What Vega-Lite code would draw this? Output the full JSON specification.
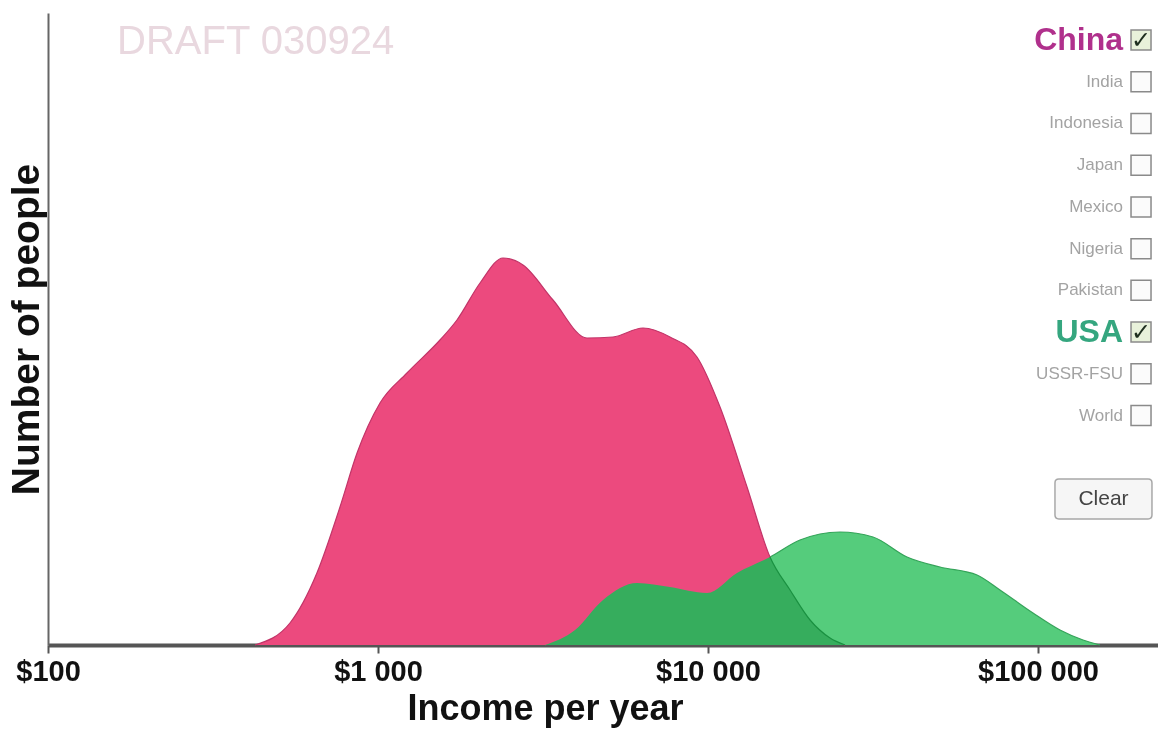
{
  "$schema": "https://vega.github.io/schema/vega-lite/v6.json",
  "width": 1110,
  "height": 632,
  "autosize": {"type": "none"},
  "padding": {"left": 48, "top": 13, "right": 0, "bottom": 86},
  "background": "white",
  "title": {
    "text": "DRAFT 030924",
    "anchor": "start",
    "orient": "top",
    "offset": -81,
    "dx": 110,
    "baseline": "alphabetic",
    "fontSize": 40,
    "fontWeight": "normal",
    "font": "Liberation Sans",
    "color": "#e9d8df"
  },
  "config": {"view": {"stroke": null}, "font": "Liberation Sans"},
  "datasets": {
    "income": [
      {"country": "China", "income": 424, "people": 0},
      {"country": "China", "income": 541, "people": 22},
      {"country": "China", "income": 653, "people": 72},
      {"country": "China", "income": 767, "people": 138},
      {"country": "China", "income": 864, "people": 192},
      {"country": "China", "income": 1014, "people": 242},
      {"country": "China", "income": 1224, "people": 272},
      {"country": "China", "income": 1541, "people": 305},
      {"country": "China", "income": 1735, "people": 325},
      {"country": "China", "income": 2038, "people": 362},
      {"country": "China", "income": 2392, "people": 387},
      {"country": "China", "income": 2750, "people": 380},
      {"country": "China", "income": 3391, "people": 345},
      {"country": "China", "income": 4298, "people": 307},
      {"country": "China", "income": 5154, "people": 308},
      {"country": "China", "income": 6353, "people": 317},
      {"country": "China", "income": 7669, "people": 308},
      {"country": "China", "income": 9261, "people": 288},
      {"country": "China", "income": 10875, "people": 238},
      {"country": "China", "income": 13130, "people": 158},
      {"country": "China", "income": 15413, "people": 88},
      {"country": "China", "income": 17725, "people": 55},
      {"country": "China", "income": 20380, "people": 25},
      {"country": "China", "income": 23430, "people": 7},
      {"country": "China", "income": 26020, "people": 0},
      {"country": "USA", "income": 3207, "people": 0},
      {"country": "USA", "income": 3954, "people": 15},
      {"country": "USA", "income": 4807, "people": 45},
      {"country": "USA", "income": 6093, "people": 62},
      {"country": "USA", "income": 7669, "people": 58},
      {"country": "USA", "income": 9931, "people": 52},
      {"country": "USA", "income": 12241, "people": 72},
      {"country": "USA", "income": 15413, "people": 88},
      {"country": "USA", "income": 19000, "people": 105},
      {"country": "USA", "income": 25119, "people": 113},
      {"country": "USA", "income": 31623, "people": 108},
      {"country": "USA", "income": 40090, "people": 88},
      {"country": "USA", "income": 50470, "people": 78},
      {"country": "USA", "income": 65340, "people": 70},
      {"country": "USA", "income": 76690, "people": 55},
      {"country": "USA", "income": 96560, "people": 32},
      {"country": "USA", "income": 116600, "people": 15},
      {"country": "USA", "income": 136900, "people": 5},
      {"country": "USA", "income": 154100, "people": 0}
    ],
    "legend": [
      {"country": "China", "checked": true},
      {"country": "India", "checked": false},
      {"country": "Indonesia", "checked": false},
      {"country": "Japan", "checked": false},
      {"country": "Mexico", "checked": false},
      {"country": "Nigeria", "checked": false},
      {"country": "Pakistan", "checked": false},
      {"country": "USA", "checked": true},
      {"country": "USSR-FSU", "checked": false},
      {"country": "World", "checked": false}
    ]
  },
  "layer": [
    {
      "data": {"name": "income"},
      "encoding": {
        "x": {
          "field": "income",
          "type": "quantitative",
          "scale": {"type": "log", "domain": [100, 231000], "nice": false},
          "axis": {
            "orient": "bottom",
            "values": [100, 1000, 10000, 100000],
            "labelExpr": "'$' + replace(format(datum.value, ','), ',', ' ')",
            "title": "Income per year",
            "titleFontSize": 36,
            "titleFontWeight": "bold",
            "titleColor": "#111111",
            "titleX": 497,
            "titleAlign": "center",
            "titlePadding": 5,
            "labelFontSize": 29,
            "labelFontWeight": "bold",
            "labelColor": "#111111",
            "labelPadding": 4,
            "labelFlush": false,
            "labelOverlap": false,
            "tickSize": 8,
            "tickColor": "#555555",
            "tickWidth": 2,
            "domainColor": "#555555",
            "domainWidth": 4,
            "grid": false
          }
        },
        "y": {
          "field": "people",
          "type": "quantitative",
          "scale": {"domain": [0, 632], "nice": false},
          "axis": {
            "orient": "left",
            "title": "Number of people",
            "titleFontSize": 39,
            "titleFontWeight": "bold",
            "titleColor": "#111111",
            "titlePadding": 2,
            "labels": false,
            "ticks": false,
            "grid": false,
            "domainColor": "#666666",
            "domainWidth": 2
          }
        }
      },
      "layer": [
        {
          "transform": [{"filter": "datum.country === 'USA'"}],
          "mark": {"type": "area", "interpolate": "monotone", "color": "#55cc7c", "opacity": 1, "fillOpacity": 1, "line": {"color": "#3e9e5e", "strokeWidth": 1.2, "opacity": 1}}
        },
        {
          "transform": [{"filter": "datum.country === 'China'"}],
          "mark": {"type": "area", "interpolate": "monotone", "color": "#ec4a7e", "opacity": 1, "fillOpacity": 1, "line": {"color": "#c23468", "strokeWidth": 1.2, "opacity": 1}}
        },
        {
          "transform": [{"filter": "datum.country === 'USA'"}],
          "mark": {"type": "area", "interpolate": "monotone", "color": "#55cc7c", "opacity": 1, "fillOpacity": 1, "blend": "color"}
        }
      ]
    },
    {
      "data": {"name": "legend"},
      "encoding": {
        "x": {"datum": 205200, "type": "quantitative", "axis": null},
        "y": {
          "field": "country",
          "type": "ordinal",
          "scale": {"type": "point", "domain": ["China", "India", "Indonesia", "Japan", "Mexico", "Nigeria", "Pakistan", "USA", "USSR-FSU", "World", "gap", "Clear"], "range": [27, 486], "padding": 0},
          "axis": null
        }
      },
      "layer": [
        {
          "mark": {"type": "point", "shape": "square", "size": 400, "filled": true, "stroke": "#8a8a8a", "strokeWidth": 1.5, "opacity": 1},
          "encoding": {
            "fill": {"condition": {"test": "datum.checked", "value": "#e8f1da"}, "value": "#fbfbfb"}
          }
        },
        {
          "transform": [{"filter": "datum.checked"}],
          "mark": {"type": "text", "font": "DejaVu Sans", "fontSize": 24, "fontWeight": "bold", "color": "#1e2e1e", "align": "center", "baseline": "middle", "dy": 1},
          "encoding": {"text": {"value": "✓"}}
        },
        {
          "transform": [{"filter": "datum.checked"}],
          "mark": {"type": "text", "align": "right", "baseline": "middle", "dx": -18, "fontSize": 32, "fontWeight": "bold"},
          "encoding": {
            "text": {"field": "country"},
            "color": {"field": "country", "type": "nominal", "scale": {"domain": ["China", "USA"], "range": ["#b0308c", "#35a67f"]}, "legend": null}
          }
        },
        {
          "transform": [{"filter": "!datum.checked"}],
          "mark": {"type": "text", "align": "right", "baseline": "middle", "dx": -18, "fontSize": 17, "color": "#a3a3a3"},
          "encoding": {"text": {"field": "country"}}
        },
        {
          "data": {"values": [{"country": "Clear"}]},
          "mark": {"type": "point", "shape": "M-0.92,-0.41 L0.92,-0.41 Q1,-0.41 1,-0.33 L1,0.33 Q1,0.41 0.92,0.41 L-0.92,0.41 Q-1,0.41 -1,0.33 L-1,-0.33 Q-1,-0.41 -0.92,-0.41 Z", "size": 9409, "filled": true, "fill": "#f6f6f6", "stroke": "#a8a8a8", "strokeWidth": 1.5, "opacity": 1},
          "encoding": {"x": {"datum": 157900, "type": "quantitative", "axis": null}}
        },
        {
          "data": {"values": [{"country": "Clear"}]},
          "mark": {"type": "text", "align": "center", "baseline": "middle", "fontSize": 21, "color": "#444444"},
          "encoding": {"x": {"datum": 157900, "type": "quantitative", "axis": null}, "text": {"field": "country"}}
        }
      ]
    }
  ],
  "resolve": {"scale": {"y": "independent"}, "axis": {"x": "independent", "y": "independent"}}
}
